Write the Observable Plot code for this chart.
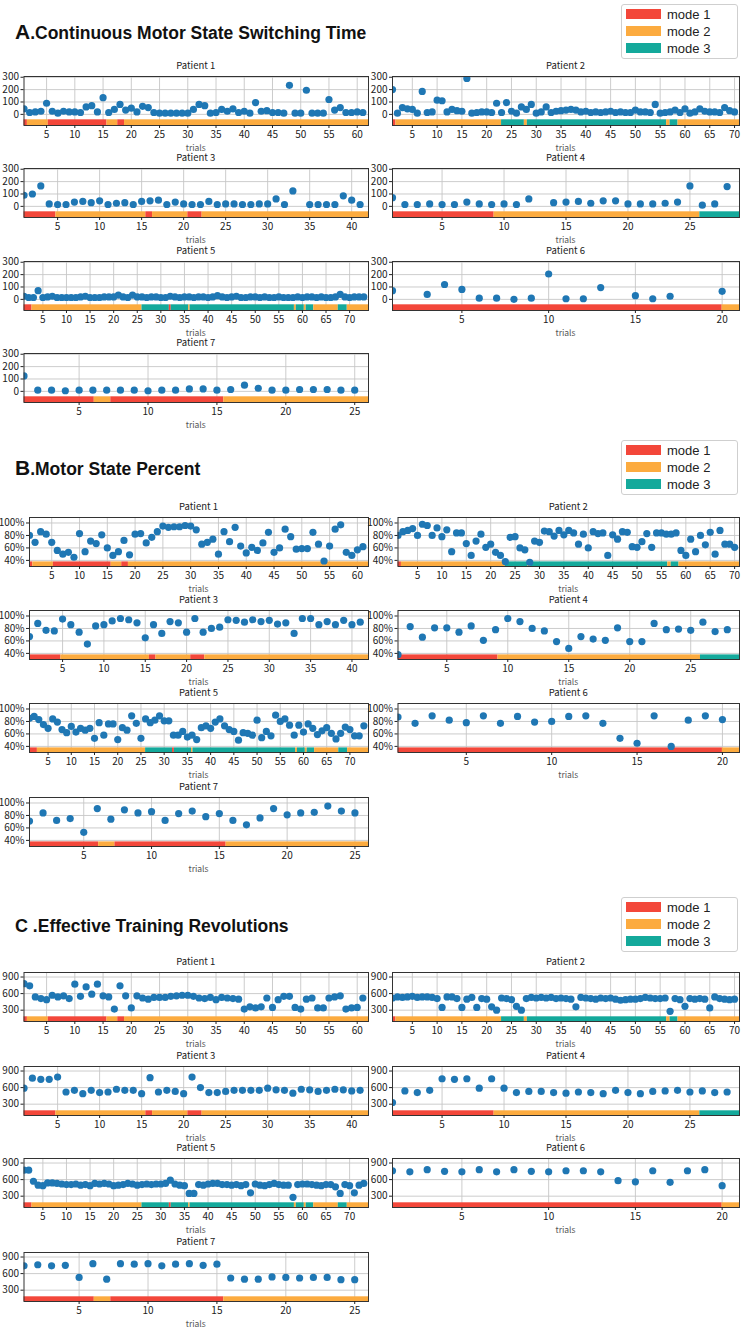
<!DOCTYPE html>
<html><head><meta charset="utf-8">
<script src="https://cdn.jsdelivr.net/npm/d3@7"></script>
<script src="https://cdn.jsdelivr.net/npm/@observablehq/plot@0.6"></script>
<style>
body{margin:0;background:#fff;}
#root{position:relative;width:742px;height:1329px;overflow:hidden;background:#fff;}
.abs{position:absolute;}
.ptitle{font-family:"Noto Sans CJK SC",sans-serif;font-size:9.5px;color:#222;transform:translate(-50%,-50%);white-space:nowrap;line-height:1;}
.xlab{font-family:"Noto Sans CJK SC",sans-serif;font-size:8.5px;color:#555;transform:translate(-50%,-50%);white-space:nowrap;line-height:1;}
.stitle{font-family:"Liberation Sans",Arial,sans-serif;font-weight:bold;color:#111;white-space:nowrap;transform:translateY(-50%);line-height:1;}
.legend{border:1px solid #cfcfcf;border-radius:3px;background:#fff;box-sizing:border-box;}
.legend .sw{position:absolute;width:35px;height:10px;}
.legend .lt{position:absolute;font-family:"Liberation Sans",Arial,sans-serif;font-size:13px;color:#222;line-height:1;transform:translateY(-50%);}
</style></head><body><div id="root"></div>
<script>
// ---------- data ----------
const modeNames = ["mode 1", "mode 2", "mode 3"];
const modeColors = ["#f3473a", "#fcab3f", "#14a99b"];
const patients = ["Patient 1","Patient 2","Patient 3","Patient 4","Patient 5","Patient 6","Patient 7"];
const trialCounts = [61, 70, 41, 28, 73, 20, 25];
const xTicks = [
  [5,10,15,20,25,30,35,40,45,50,55,60],
  [5,10,15,20,25,30,35,40,45,50,55,60,65,70],
  [5,10,15,20,25,30,35,40],
  [5,10,15,20,25],
  [5,10,15,20,25,30,35,40,45,50,55,60,65,70],
  [5,10,15,20],
  [5,10,15,20,25]
];
// mode segments per patient: [start trial, end trial, mode]
const seg1 = [[1,1.6,1],[1.6,5.3,2],[5.3,15.7,1],[15.7,17.6,2],[17.6,18.8,1],[18.8,62,2]];
const seg2 = [[1,1.7,1],[1.7,23,2],[23,27.6,3],[27.6,28.2,2],[28.2,56.3,3],[56.3,57,2],[57,58.6,3],[58.6,71,2]];
const seg3 = [[1,4.8,1],[4.8,15.5,2],[15.5,16.3,1],[16.3,20.5,2],[20.5,22.2,1],[22.2,42,2]];
const seg4 = [[1,9.2,1],[9.2,25.8,2],[25.8,29,3]];
const seg5 = [[1,2.7,1],[2.7,26,2],[26,31.8,3],[31.8,32.2,1],[32.2,35.9,3],[35.9,36.2,2],[36.2,58.3,3],[58.3,58.7,2],[58.7,60.4,3],[60.4,60.8,2],[60.8,62.4,3],[62.4,67.6,2],[67.6,69.5,3],[69.5,74,2]];
const seg6 = [[1,20,1],[20,21,2]];
const seg7 = [[1,6.1,1],[6.1,7.3,2],[7.3,15.5,1],[15.5,26,2]];
const segments = [seg1, seg2, seg3, seg4, seg5, seg6, seg7];

// A. switching time
const aP1 = [45,15,20,25,90,25,10,25,20,20,15,60,70,20,135,15,40,80,35,50,20,65,55,15,10,10,10,10,10,10,40,80,70,10,15,40,25,45,15,25,10,95,25,30,15,15,10,235,10,10,195,10,10,10,120,35,55,15,15,20,15];
const aP2 = [200,10,55,45,40,10,185,15,20,115,110,20,40,30,25,290,10,15,20,20,15,90,15,95,25,10,60,40,80,10,20,60,15,25,30,35,40,35,20,25,15,20,15,20,25,15,20,15,15,35,20,20,15,80,10,15,20,35,15,45,10,20,45,25,20,20,15,55,30,20];
const aP3 = [90,100,165,20,15,15,35,40,30,45,15,25,30,15,40,45,50,15,35,20,15,15,40,15,20,20,15,15,20,20,60,15,125,null,15,15,15,15,85,50,15];
const aP4 = [70,15,15,20,15,15,35,20,15,20,15,60,null,30,35,40,25,45,45,20,20,20,25,35,165,10,20,160];
const aP5 = [25,15,15,70,15,20,25,15,15,15,15,15,20,25,15,15,15,20,20,20,35,20,15,35,20,20,15,20,20,15,15,25,20,15,20,20,15,20,20,15,20,30,20,15,20,25,15,15,20,20,15,20,15,15,20,15,15,15,20,15,20,20,15,20,15,15,20,40,20,15,20,20,20];
const aP6 = [70,null,40,120,80,10,10,0,10,205,5,5,95,null,30,5,25,null,null,65];
const aP7 = [125,10,10,5,10,10,10,10,10,5,10,10,20,20,10,15,50,25,10,10,15,15,15,10,10];

// B. motor state percent
const bP1 = [80,69,86,82,69,56,50,53,45,83,54,71,67,81,60,48,54,72,49,82,83,68,77,86,95,93,94,94,96,95,89,66,69,74,50,86,70,93,63,52,61,56,68,85,53,60,90,78,58,59,59,85,66,39,63,90,97,53,48,57,62];
const bP2 = [80,86,88,91,80,98,96,80,92,78,89,54,84,84,67,48,71,82,61,66,53,48,38,77,78,60,57,37,71,69,87,86,79,88,81,88,84,66,82,60,86,83,84,48,81,74,86,85,62,61,70,83,61,84,84,82,82,84,56,48,74,54,80,65,85,50,88,66,66,61];
const bP3 = [67,88,77,76,95,86,74,55,84,86,92,96,94,89,65,86,72,91,89,74,96,74,80,82,94,93,90,94,91,93,87,89,72,96,96,86,91,86,93,86,90];
const bP4 = [38,83,66,81,81,74,84,61,78,96,91,80,76,59,48,67,63,61,81,59,59,88,78,79,77,90,75,78];
const bP5 = [85,88,83,75,69,84,79,67,62,72,63,69,66,69,53,78,58,76,76,51,70,66,89,77,53,84,78,82,89,81,81,58,58,64,55,58,51,70,73,69,79,84,73,67,64,50,62,61,58,82,54,64,57,90,80,84,74,58,74,63,76,69,59,65,70,61,52,61,71,67,57,57,73];
const bP6 = [87,77,89,82,78,89,77,88,79,80,88,89,77,53,45,89,40,82,89,83];
const bP7 = [71,84,72,75,53,91,74,89,84,86,72,83,87,78,83,72,65,76,91,81,84,85,95,87,84];

// C. effective training revolutions
const cP1 = [780,740,540,510,490,570,540,560,510,770,550,720,590,770,560,540,320,740,560,340,560,520,500,530,530,530,550,560,570,570,550,520,510,530,490,530,520,510,500,320,360,340,360,520,350,490,550,550,350,320,500,520,340,340,520,540,560,320,340,350,520];
const cP2 = [520,540,530,540,550,530,540,540,530,510,350,540,540,510,350,500,530,350,510,500,360,300,520,510,490,370,300,510,530,520,530,520,530,510,520,510,500,360,530,520,510,500,520,510,520,500,480,490,500,500,510,530,520,510,510,520,280,510,490,370,510,500,510,500,340,540,510,500,490,500];
const cP3 = [590,770,750,750,790,520,550,490,550,510,520,570,550,550,490,780,520,550,530,490,790,600,510,510,530,550,550,550,550,590,560,550,500,570,560,530,550,570,560,540,550];
const cP4 = [330,540,510,550,760,750,760,590,760,590,510,530,530,510,500,520,510,490,550,510,490,530,540,550,520,540,510,520];
const cP5 = [770,770,570,500,490,540,540,530,520,510,510,520,500,510,490,530,520,530,520,490,500,510,530,520,500,510,520,510,520,520,530,590,520,500,490,350,350,510,500,520,530,530,510,510,500,510,490,510,360,520,500,490,510,530,510,500,500,280,510,520,520,510,500,490,510,510,470,350,510,490,360,500,530];
const cP6 = [760,740,780,750,740,780,740,780,750,740,760,760,740,580,560,760,550,760,780,490];
const cP7 = [740,760,740,750,530,780,500,780,770,780,740,770,780,750,770,520,500,500,540,530,520,530,530,490,490];

const sectionLetters = ["A", "B", "C"];
const sectionTitles = [".Continuous Motor State Switching Time", ".Motor State Percent", " .Effective Training Revolutions"];
const yTicksA = [0, 100, 200, 300];
const yTicksB = [40, 60, 80, 100];
const yTicksC = [300, 600, 900];

// ---------- layout ----------
const sections = [
  {letter: sectionLetters[0], title: sectionTitles[0], letterSize: 21, legendTop: 4, titleY: 32,
   rows: [65.5, 158, 250.5, 343], yDomain: [-90, 306], bar: [-90, -44], yTicks: yTicksA, fmt: d => String(d),
   left: [23.5, 392], series: [aP1, aP2, aP3, aP4, aP5, aP6, aP7]},
  {letter: sectionLetters[1], title: sectionTitles[1], letterSize: 21, legendTop: 440, titleY: 468,
   rows: [506.7, 600, 693.3, 786.7], yDomain: [30.2, 108.8], bar: [30.2, 37.6], yTicks: yTicksB, fmt: d => d + "%",
   left: [29, 397.5], series: [bP1, bP2, bP3, bP4, bP5, bP6, bP7]},
  {letter: sectionLetters[2], title: sectionTitles[2], letterSize: 18, legendTop: 897, titleY: 926,
   rows: [961.7, 1055.5, 1148.3, 1241.7], yDomain: [95, 982], bar: [95, 180], yTicks: yTicksC, fmt: d => String(d),
   left: [23.5, 392], series: [cP1, cP2, cP3, cP4, cP5, cP6, cP7]}
];

const root = document.getElementById("root");
function addDiv(cls, x, y, html, extra) {
  const d = document.createElement("div");
  d.className = "abs " + cls;
  d.style.left = x + "px";
  d.style.top = y + "px";
  if (extra) Object.assign(d.style, extra);
  d.innerHTML = html;
  root.appendChild(d);
  return d;
}

const frameOffset = 10, frameH = 49, mTop = 3, mBottom = 22;
const rightEdge = [368, 739];

sections.forEach(sec => {
  addDiv("stitle", 15, sec.titleY,
    `<span style="font-size:${sec.letterSize}px">${sec.letter}</span><span style="font-size:17.5px">${sec.title.replace(/ /g, "&nbsp;")}</span>`);
  const lg = addDiv("legend", 621, sec.legendTop, "", {width: "117px", height: "55px"});
  modeNames.forEach((m, k) => {
    const sw = document.createElement("div");
    sw.className = "sw";
    sw.style.left = "4px"; sw.style.top = (4 + 17 * k) + "px"; sw.style.background = modeColors[k];
    lg.appendChild(sw);
    const t = document.createElement("div");
    t.className = "lt";
    t.style.left = "45px"; t.style.top = (9 + 17 * k) + "px";
    t.textContent = m;
    lg.appendChild(t);
  });

  patients.forEach((name, i) => {
    const row = Math.floor(i / 2), col = i % 2;
    const T = sec.rows[row];
    const n = trialCounts[i];
    const svgLeft = col ? 370 : 0;
    const width = col ? 372 : 370;
    const fl = sec.left[col], fr = rightEdge[col];
    const data = sec.series[i].map((v, j) => ({t: j + 1, v})).filter(d => d.v != null);
    const segs = segments[i].map(s => ({x1: s[0], x2: s[1], mode: s[2]}));
    const plot = Plot.plot({
      width, height: mTop + frameH + mBottom,
      marginLeft: fl - svgLeft, marginRight: svgLeft + width - fr,
      marginTop: mTop, marginBottom: mBottom,
      x: {domain: [1, n + 1]},
      y: {domain: sec.yDomain},
      style: {fontFamily: "'Noto Sans CJK SC', sans-serif", fontSize: "10px", color: "#222", background: "none", overflow: "visible"},
      marks: [
        Plot.gridX(xTicks[i], {stroke: "#c6c6c6", strokeOpacity: 1, strokeWidth: 0.9}),
        Plot.gridY(sec.yTicks, {stroke: "#c6c6c6", strokeOpacity: 1, strokeWidth: 0.9}),
        Plot.rect(segs, {x1: "x1", x2: "x2", y1: sec.bar[0], y2: sec.bar[1], fill: d => modeColors[d.mode - 1]}),
        Plot.dot(data, {x: "t", y: "v", r: 3.6, fill: "#1f77b4", clip: true}),
        Plot.frame({stroke: "#333", strokeWidth: 1}),
        Plot.axisX(xTicks[i], {tickSize: 3, tickPadding: 2, label: null, tickFormat: d => String(d)}),
        Plot.axisY(sec.yTicks, {tickSize: 3, tickPadding: 2, label: null, tickFormat: sec.fmt})
      ]
    });
    plot.style.position = "absolute";
    plot.style.left = svgLeft + "px";
    plot.style.top = (T + frameOffset - mTop) + "px";
    root.appendChild(plot);
    const cx = (fl + fr) / 2;
    addDiv("ptitle", cx, T, name);
    addDiv("xlab", cx, T + 81, "trials");
  });
});
</script></body></html>
